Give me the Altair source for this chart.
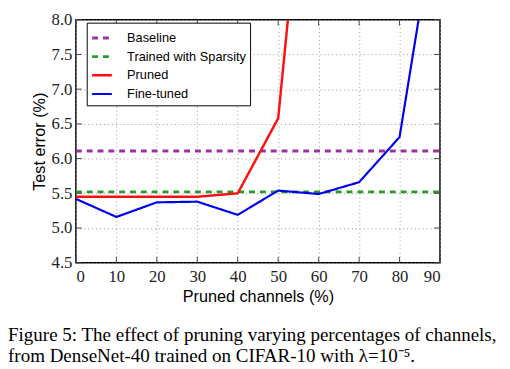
import altair as alt
import pandas as pd

x_vals = [0, 10, 20, 30, 40, 50, 60, 70, 80, 90]
y_ticks = [4.5, 5.0, 5.5, 6.0, 6.5, 7.0, 7.5, 8.0]
baseline = 6.11
sparsity = 5.52
pruned_x = [0, 10, 20, 30, 40, 50, 60]
pruned_y = [5.45, 5.45, 5.45, 5.45, 5.50, 6.58, 12.5]
finetuned_y = [5.42, 5.16, 5.37, 5.38, 5.19, 5.54, 5.49, 5.66, 6.31, 9.9]

series_order = ["Baseline", "Trained with Sparsity", "Pruned", "Fine-tuned"]
colors = ["#9b30a0", "#2a9a2a", "#ff1010", "#0000ee"]

rows = []
for xv in [0, 90]:
    rows.append({"series": "Baseline", "x": xv, "y": baseline, "o": xv})
    rows.append({"series": "Trained with Sparsity", "x": xv, "y": sparsity, "o": xv})
for xv, yv in zip(pruned_x, pruned_y):
    rows.append({"series": "Pruned", "x": xv, "y": yv, "o": xv})
for xv, yv in zip(x_vals, finetuned_y):
    rows.append({"series": "Fine-tuned", "x": xv, "y": yv, "o": xv})
df = pd.DataFrame(rows)

caption = [
    "Figure 5: The effect of pruning varying percentages of channels,",
    "from DenseNet-40 trained on CIFAR-10 with \u03bb=10\u207b\u2075.",
]

W, H = 370, 247
xscale = alt.Scale(domain=[0, 90], nice=False)
yscale = alt.Scale(domain=[4.5, 8.0], nice=False, zero=False)
xaxis = alt.Axis(values=x_vals, title="Pruned channels (%)", format="d")
yaxis = alt.Axis(values=y_ticks, title="Test error (%)", format=".1f")

lines = alt.Chart(df).mark_line(clip=True).encode(
    x=alt.X("x:Q", scale=xscale, axis=xaxis),
    y=alt.Y("y:Q", scale=yscale, axis=yaxis),
    color=alt.Color("series:N", sort=series_order,
                    scale=alt.Scale(domain=series_order, range=colors),
                    legend=alt.Legend(title=None, orient="none", legendX=11, legendY=3,
                                      symbolType="stroke", symbolSize=400,
                                      symbolStrokeWidth=2, labelFontSize=13,
                                      labelFont="Liberation Sans", labelColor="black",
                                      rowPadding=0, padding=4, labelOffset=14,
                                      titlePadding=0,
                                      strokeColor="black", fillColor="white",
                                      labelLimit=300)),
    strokeDash=alt.StrokeDash("series:N", sort=series_order,
                              scale=alt.Scale(domain=series_order,
                                              range=[[6, 5], [6, 5], [1, 0], [1, 0]]),
                              legend=alt.Legend(title=None, orient="none", legendX=11, legendY=3)),
    strokeWidth=alt.StrokeWidth("series:N",
                                scale=alt.Scale(domain=series_order, range=[3, 2.2, 2, 2]),
                                legend=None),
    order="o:Q",
)

xt = pd.DataFrame({"x": x_vals})
yt = pd.DataFrame({"y": y_ticks})
tick_color = "#444"
xt_bottom = alt.Chart(xt).mark_rule(color=tick_color, strokeWidth=1).encode(
    x=alt.X("x:Q", scale=xscale, axis=xaxis), y=alt.value(H), y2=alt.value(H - 6))
xt_top = alt.Chart(xt).mark_rule(color=tick_color, strokeWidth=1).encode(
    x=alt.X("x:Q", scale=xscale, axis=xaxis), y=alt.value(0), y2=alt.value(6))
yt_left = alt.Chart(yt).mark_rule(color=tick_color, strokeWidth=1).encode(
    y=alt.Y("y:Q", scale=yscale, axis=yaxis), x=alt.value(0), x2=alt.value(6))
yt_right = alt.Chart(yt).mark_rule(color=tick_color, strokeWidth=1).encode(
    y=alt.Y("y:Q", scale=yscale, axis=yaxis), x=alt.value(W), x2=alt.value(W - 6))

chart = alt.layer(lines, xt_bottom, xt_top, yt_left, yt_right).properties(
    width=W,
    height=H,
    padding={"left": 69, "top": 9, "right": 63, "bottom": 103},
    autosize=alt.AutoSizeParams(type="none"),
    title=alt.TitleParams(text=caption, orient="bottom", anchor="start", frame="group",
                          dx=-69, offset=22, font="Liberation Serif", fontSize=19.3,
                          fontWeight="normal", color="black", lineHeight=21, limit=1000),
).configure_view(
    stroke="black", strokeWidth=1.5
).configure_axis(
    labelFont="Liberation Serif", labelFontSize=17, labelColor="#222",
    titleFont="Liberation Sans", titleFontSize=16.5, titleFontWeight="normal", titleColor="black",
    grid=True, gridColor="#999", gridDash=[1, 3], gridWidth=1,
    ticks=False, domain=False,
).configure_axisY(titlePadding=4, labelPadding=4).configure_axisX(titlePadding=4, labelPadding=6)

chart.save("out.html", embed_options={"renderer": "svg", "actions": False})
